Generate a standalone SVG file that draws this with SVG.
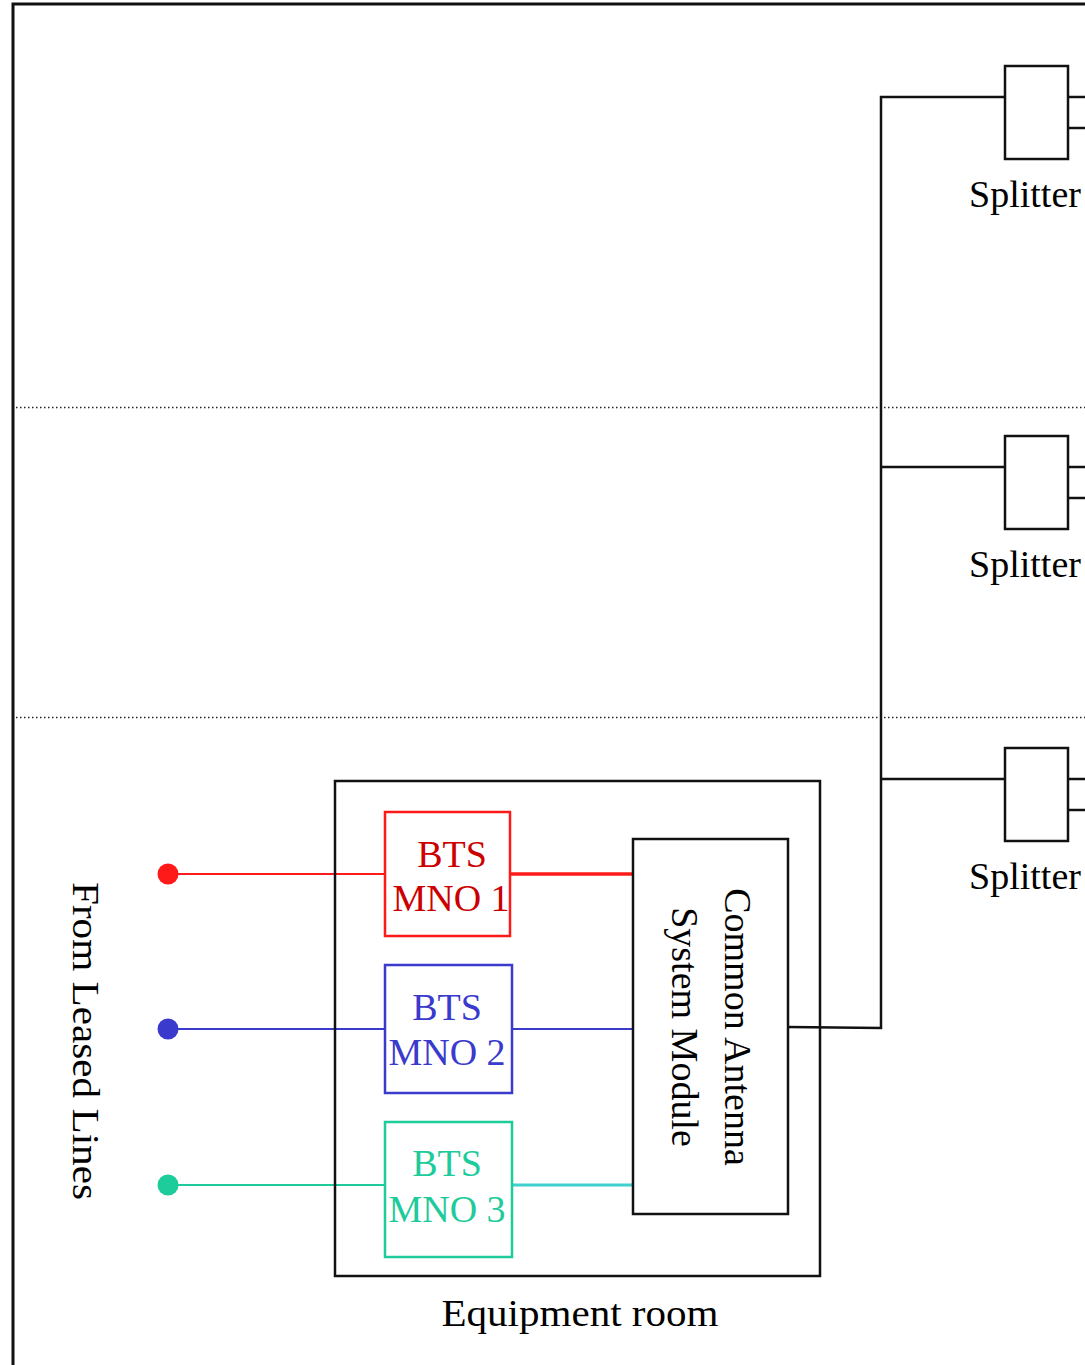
<svg xmlns="http://www.w3.org/2000/svg" width="1085" height="1365" viewBox="0 0 1085 1365">
<style>
text{font-family:"Liberation Serif","Times New Roman",serif;font-size:38px;text-anchor:middle}
.k{fill:none;stroke:#111;stroke-width:2.5}
.dot{fill:none;stroke:#222;stroke-width:1.5;stroke-dasharray:1.5 2.5}
</style>
<rect width="1085" height="1365" fill="#fff"/>
<rect x="13" y="4" width="1200" height="1500" fill="none" stroke="#111" stroke-width="3"/>
<g id="floors">
<line class="dot" x1="16" y1="407.5" x2="1085" y2="407.5"/>
<line class="dot" x1="16" y1="717.5" x2="1085" y2="717.5"/>
</g>
<g id="connectors">
<polyline class="k" points="1005,97 881,97 881,1028 788,1027"/>
<line class="k" x1="881" y1="467" x2="1005" y2="467"/>
<line class="k" x1="881" y1="779" x2="1005" y2="779"/>
<line class="k" x1="1068" y1="97" x2="1085" y2="97"/>
<line class="k" x1="1068" y1="128" x2="1085" y2="128"/>
<line class="k" x1="1068" y1="467" x2="1085" y2="467"/>
<line class="k" x1="1068" y1="498" x2="1085" y2="498"/>
<line class="k" x1="1068" y1="779" x2="1085" y2="779"/>
<line class="k" x1="1068" y1="810" x2="1085" y2="810"/>
<line x1="168" y1="874" x2="385" y2="874" stroke="#ff1a1a" stroke-width="2"/>
<line x1="510" y1="874" x2="633" y2="874" stroke="#ff1a1a" stroke-width="3.5"/>
<line x1="168" y1="1029" x2="385" y2="1029" stroke="#3a3acc" stroke-width="2"/>
<line x1="512" y1="1029" x2="633" y2="1029" stroke="#3a3acc" stroke-width="2"/>
<line x1="168" y1="1185" x2="385" y2="1185" stroke="#1ecb9a" stroke-width="2"/>
<line x1="512" y1="1185" x2="633" y2="1185" stroke="#40d0d0" stroke-width="3"/>
<circle cx="168" cy="874" r="10.5" fill="#ff1a1a"/>
<circle cx="168" cy="1029" r="10.5" fill="#3a3acc"/>
<circle cx="168" cy="1185" r="10.5" fill="#1ecb9a"/>
</g>
<g id="splitter1"><rect class="k" x="1005" y="66" width="63" height="93"/><text x="1025" y="207">Splitter</text></g>
<g id="splitter2"><rect class="k" x="1005" y="436" width="63" height="93"/><text x="1025" y="577">Splitter</text></g>
<g id="splitter3"><rect class="k" x="1005" y="748" width="63" height="93"/><text x="1025" y="889">Splitter</text></g>
<g id="equipment-room"><rect class="k" x="335" y="781" width="485" height="495"/><text x="580" y="1326" font-size="41" textLength="277" lengthAdjust="spacingAndGlyphs">Equipment room</text></g>
<g id="bts1"><rect x="385" y="812" width="125" height="124" fill="none" stroke="#ff1a1a" stroke-width="2.5"/><text x="452" y="867" fill="#cc0000">BTS</text><text x="451" y="911" fill="#cc0000">MNO 1</text></g>
<g id="bts2"><rect x="385" y="965" width="127" height="128" fill="none" stroke="#3a3acc" stroke-width="2.5"/><text x="447" y="1020" fill="#3a3acc">BTS</text><text x="447" y="1065" fill="#3a3acc">MNO 2</text></g>
<g id="bts3"><rect x="385" y="1122" width="127" height="135" fill="none" stroke="#1ecb9a" stroke-width="2.5"/><text x="447" y="1176" fill="#1ecb9a">BTS</text><text x="447" y="1222" fill="#1ecb9a">MNO 3</text></g>
<g id="casm"><rect class="k" x="633" y="839" width="155" height="375"/>
<text transform="translate(725,1027) rotate(90)">Common Antenna</text>
<text transform="translate(672,1027) rotate(90)">System Module</text></g>
<g id="leased"><text transform="translate(73,1041) rotate(90)" font-size="40" textLength="318" lengthAdjust="spacingAndGlyphs">From Leased Lines</text></g>
</svg>
